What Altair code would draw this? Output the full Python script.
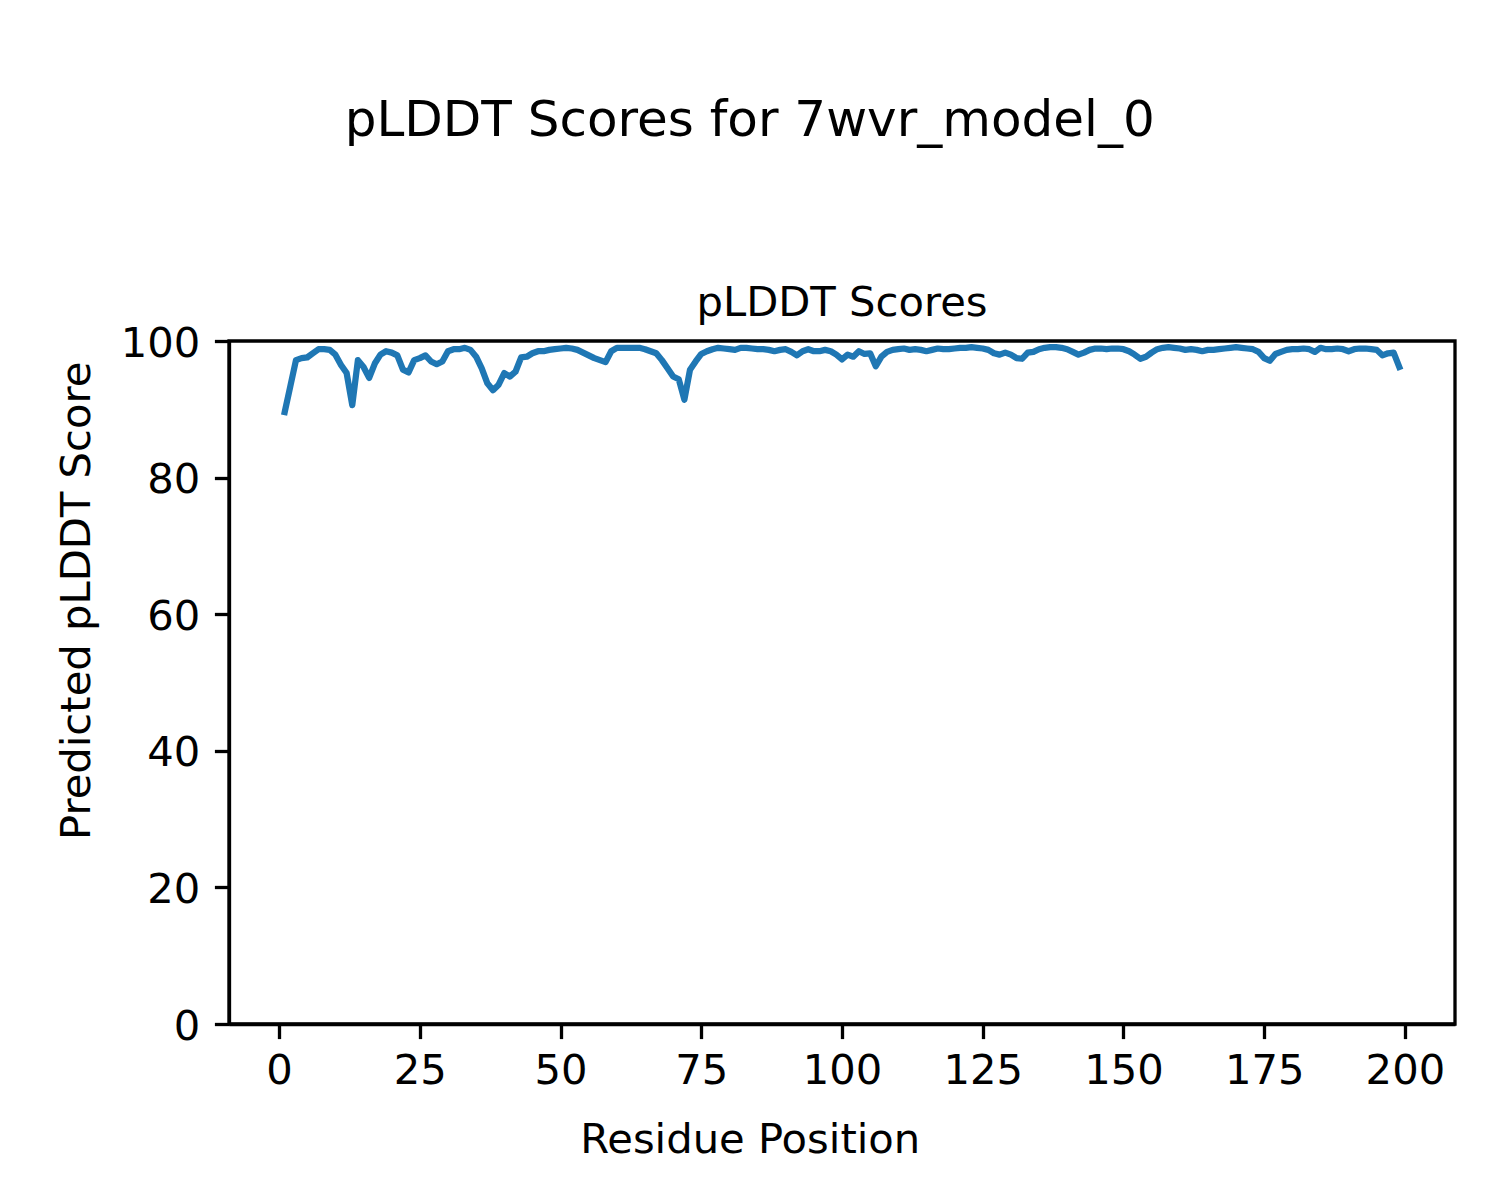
import altair as alt
import pandas as pd

residues = list(range(1, 200))
scores = [
    89.6, 93.4, 97.2, 97.5, 97.6, 98.2, 98.8, 98.8, 98.7, 98.0,
    96.5, 95.3, 90.6, 97.2, 96.2, 94.6, 96.7, 98.0, 98.5, 98.3,
    97.9, 95.8, 95.4, 97.2, 97.5, 97.9, 97.0, 96.6, 97.0, 98.5,
    98.8, 98.8, 99.0, 98.7, 97.7, 96.0, 93.8, 92.8, 93.6, 95.3,
    94.8, 95.5, 97.6, 97.7, 98.2, 98.5, 98.5, 98.7, 98.8, 98.9,
    99.0, 98.9, 98.7, 98.3, 97.9, 97.5, 97.2, 96.9, 98.5, 99.0,
    99.0, 99.0, 99.0, 99.0, 98.8, 98.5, 98.2, 97.2, 96.0, 94.8,
    94.4, 91.4, 95.8, 97.0, 98.1, 98.5, 98.8, 99.0, 98.9, 98.8,
    98.7, 99.0, 99.0, 98.9, 98.8, 98.8, 98.7, 98.5, 98.7, 98.8,
    98.4, 97.9, 98.5, 98.8, 98.5, 98.5, 98.7, 98.5, 98.0, 97.3,
    98.0, 97.7, 98.5, 98.1, 98.2, 96.3, 97.7, 98.4, 98.7, 98.8,
    98.9, 98.7, 98.8, 98.7, 98.5, 98.7, 98.9, 98.8, 98.8, 98.9,
    99.0, 99.0, 99.1, 99.0, 98.9, 98.7, 98.2, 98.0, 98.3, 98.0,
    97.5, 97.4, 98.3, 98.4, 98.8, 99.0, 99.1, 99.1, 99.0, 98.8,
    98.4, 98.0, 98.3, 98.7, 98.9, 98.9, 98.8, 98.9, 98.9, 98.8,
    98.5, 98.0, 97.4, 97.7, 98.3, 98.8, 99.0, 99.1, 99.0, 98.9,
    98.7, 98.8, 98.7, 98.5, 98.7, 98.7, 98.8, 98.9, 99.0, 99.1,
    99.0, 98.9, 98.8, 98.4, 97.5, 97.1, 98.1, 98.4, 98.7, 98.8,
    98.8, 98.9, 98.8, 98.4, 99.0, 98.8, 98.8, 98.9, 98.8, 98.5,
    98.8, 98.9, 98.9, 98.8, 98.7, 97.9, 98.2, 98.3, 96.2,
]
x_ticks = [0, 25, 50, 75, 100, 125, 150, 175, 200]
y_ticks = [0, 20, 40, 60, 80, 100]
suptitle = "pLDDT Scores for 7wvr_model_0"
axes_title = "pLDDT Scores"

df = pd.DataFrame({"Residue": residues, "Score": scores})

FONT = "DejaVu Sans"
W, H = 1226, 683

line = alt.Chart(df).mark_line(
    color="#1f77b4", strokeWidth=6.25, strokeJoin="round", strokeCap="square"
).encode(
    x=alt.X("Residue:Q",
            scale=alt.Scale(domain=[-8.9, 208.9], nice=False, zero=False),
            axis=alt.Axis(values=x_ticks, title="Residue Position",
                          labelPadding=44.7, labelBaseline="alphabetic",
                          titleX=520.7, titleAlign="center",
                          titleY=128, titleBaseline="alphabetic")),
    y=alt.Y("Score:Q",
            scale=alt.Scale(domain=[0, 100], nice=False, zero=False),
            axis=alt.Axis(values=y_ticks, title="Predicted pLDDT Score",
                          labelPadding=14.6, labelBaseline="alphabetic",
                          labelOffset=15,
                          titleX=-139.3, titleY=259.3, titleAlign="center",
                          titleBaseline="alphabetic", titleAngle=270)),
)

sup = alt.Chart(pd.DataFrame({"t": [suptitle]})).mark_text(
    font=FONT, fontSize=50, align="center", baseline="alphabetic", color="black"
).encode(text="t:N", x=alt.value(520.7), y=alt.value(-205))

ax_t = alt.Chart(pd.DataFrame({"t": [axes_title]})).mark_text(
    font=FONT, fontSize=41.7, align="center", baseline="alphabetic", color="black"
).encode(text="t:N", x=alt.value(W / 2), y=alt.value(-25))

chart = alt.layer(line, sup, ax_t).properties(
    width=W, height=H,
    autosize=alt.AutoSizeParams(type="none"),
    padding={"left": 221, "top": 333, "right": 29, "bottom": 160},
    background="white",
).configure_view(
    stroke="black", strokeWidth=3.3
).configure_axis(
    grid=False,
    domain=True, domainColor="black", domainWidth=3.3,
    ticks=True, tickColor="black", tickWidth=3.3, tickSize=14.6,
    labelFont=FONT, labelFontSize=41.7, labelColor="black",
    titleFont=FONT, titleFontSize=41.7, titleFontWeight="normal", titleColor="black",
    labelFlush=False, labelOverlap=False,
)

chart.save("out.html", embed_options={"renderer": "svg", "actions": False})
